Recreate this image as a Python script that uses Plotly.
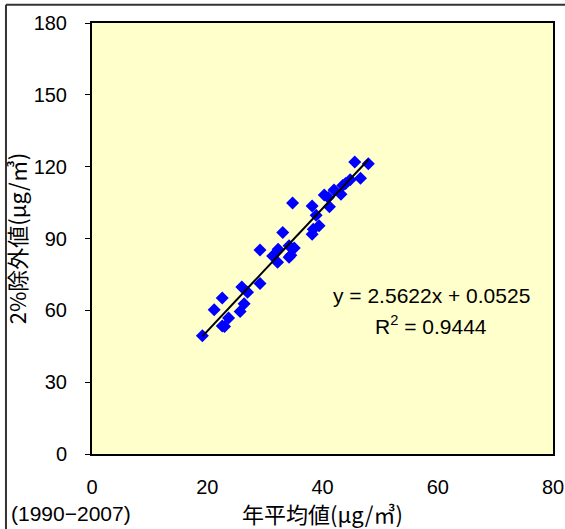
import plotly.graph_objects as go

# annual mean (x) vs 2% excluded value (y), 1990-2007
annual_mean = [19.15, 21.2, 22.6, 22.6, 23.0, 23.7, 25.7, 26.4, 26.0, 27.0,
               29.15, 29.15, 31.35, 32.2, 32.3, 33.1, 34.2, 34.2, 34.5, 35.1,
               34.8, 38.2, 38.9, 39.4, 38.4, 38.2, 40.3, 41.0, 41.2, 42.0,
               43.2, 43.5, 44.0, 44.8, 45.6, 46.6, 47.95]
excluded_2pct = [49.4, 60.2, 65.2, 53.5, 53.2, 56.8, 59.5, 62.7, 69.7, 67.6,
                 71.2, 85.2, 82.7, 80.1, 85.5, 92.5, 87.0, 82.2, 83.0, 86.0,
                 104.8, 103.6, 99.7, 95.3, 93.9, 91.8, 108.2, 107.1, 103.3, 110.3,
                 108.5, 112.1, 113.0, 114.5, 121.9, 115.2, 121.2]

slope = 2.5622
intercept = 0.0525
fit_x = [min(annual_mean), max(annual_mean)]
fit_y = [slope * v + intercept for v in fit_x]

x_ticks = [0, 20, 40, 60, 80]
y_ticks = [0, 30, 60, 90, 120, 150, 180]

FONT = "Liberation Sans, Arial, Noto Sans CJK JP, sans-serif"
JP_FONT = "Noto Sans CJK JP"

fig = go.Figure()

fig.add_trace(go.Scatter(
    x=annual_mean,
    y=excluded_2pct,
    mode="markers",
    marker=dict(symbol="diamond", size=10, color="#0000FF"),
    showlegend=False
))

fig.add_trace(go.Scatter(
    x=fit_x,
    y=fit_y,
    mode="lines",
    line=dict(color="black", width=2),
    showlegend=False
))

fig.update_layout(
    width=565,
    height=529,
    margin=dict(l=92, r=12, t=23, b=75),
    paper_bgcolor="white",
    plot_bgcolor="#FFFFCC",
    font=dict(family=FONT, size=20, color="black"),
    xaxis=dict(
        range=[0, 80], tickvals=x_ticks, showgrid=False, zeroline=False,
        showline=True, linecolor="black", linewidth=2, mirror=True,
        ticks="", ticklabelstandoff=14, automargin=False,
        title=dict(text="年平均値(μg/㎥)", standoff=4,
                   font=dict(family=JP_FONT, size=22))
    ),
    yaxis=dict(
        range=[0, 180], tickvals=y_ticks, showgrid=False, zeroline=False,
        showline=True, linecolor="black", linewidth=2, mirror=True,
        ticks="outside", ticklen=5, tickcolor="black", ticklabelstandoff=14,
        automargin=False,
        title=dict(text="2%除外値(μg/㎥)", standoff=4,
                   font=dict(family=JP_FONT, size=22))
    ),
    annotations=[
        dict(x=59.0, y=66.0, xref="x", yref="y", showarrow=False,
             text="y = 2.5622x + 0.0525", font=dict(size=21)),
        dict(x=58.8, y=53.9, xref="x", yref="y", showarrow=False,
             text="R<sup>2</sup> = 0.9444", font=dict(size=21)),
        dict(x=-0.18, y=-0.137, xref="paper", yref="paper", showarrow=False,
             xanchor="left", yanchor="middle",
             text="(1990−2007)", font=dict(size=21)),
    ],
    shapes=[
        dict(type="line", xref="paper", yref="paper",
             x0=-0.1866, x1=-0.1866, y0=1.0425, y1=-0.2,
             line=dict(color="#333333", width=2)),
        dict(type="line", xref="paper", yref="paper",
             x0=-0.1866, x1=1.05, y0=1.0425, y1=1.0425,
             line=dict(color="#333333", width=2)),
    ],
)

fig.write_html(
    "out.html",
    config={"displayModeBar": False},
    post_script="document.body.style.margin='0';"
)
